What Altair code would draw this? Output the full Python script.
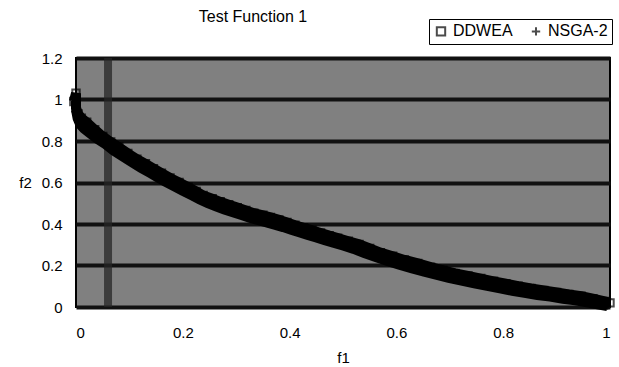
import altair as alt
import pandas as pd

# Pareto front estimates
ddwea_f1 = [-0.004, 0.0, 0.0, 0.004, 0.01, 0.02, 0.035, 0.05, 0.065, 0.08, 0.097, 0.114, 0.13, 0.145,
            0.16, 0.176, 0.193, 0.21, 0.225, 0.238, 0.255, 0.27, 0.286, 0.302, 0.318, 0.333, 0.35, 0.364,
            0.38, 0.395, 0.41, 0.426, 0.442, 0.458, 0.474, 0.49, 0.51, 0.53, 0.55, 0.57, 0.593, 0.615,
            0.64, 0.664, 0.687, 0.71, 0.734, 0.758, 0.782, 0.805, 0.828, 0.852, 0.876, 0.9, 0.923,
            0.946, 0.968, 0.99, 1.0]
ddwea_f2 = [0.99, 1.03, 0.96, 0.93, 0.91, 0.89, 0.855, 0.822, 0.795, 0.77, 0.74, 0.712, 0.69, 0.667,
            0.645, 0.622, 0.6, 0.577, 0.557, 0.537, 0.522, 0.507, 0.493, 0.479, 0.465, 0.452, 0.442, 0.432,
            0.42, 0.407, 0.394, 0.382, 0.37, 0.357, 0.344, 0.332, 0.317, 0.302, 0.282, 0.262, 0.245, 0.227,
            0.21, 0.192, 0.177, 0.162, 0.15, 0.137, 0.124, 0.112, 0.1, 0.089, 0.08, 0.07, 0.06,
            0.052, 0.04, 0.027, 0.02]

nsga_f1 = [0.0, 0.003, 0.008, 0.015, 0.025, 0.04, 0.055, 0.07, 0.088, 0.105, 0.122, 0.138, 0.153,
           0.168, 0.185, 0.2, 0.217, 0.232, 0.247, 0.262, 0.278, 0.294, 0.31, 0.325, 0.342, 0.357,
           0.372, 0.388, 0.403, 0.418, 0.434, 0.45, 0.466, 0.482, 0.5, 0.52, 0.54, 0.56, 0.582, 0.604,
           0.628, 0.652, 0.676, 0.698, 0.722, 0.746, 0.77, 0.794, 0.817, 0.84, 0.864, 0.888, 0.912,
           0.935, 0.957, 0.979, 0.995]
nsga_f2 = [0.95, 0.91, 0.88, 0.86, 0.84, 0.81, 0.785, 0.755, 0.725, 0.697, 0.67, 0.647, 0.625,
           0.603, 0.58, 0.56, 0.538, 0.518, 0.5, 0.485, 0.47, 0.456, 0.443, 0.43, 0.418, 0.408,
           0.397, 0.385, 0.372, 0.36, 0.347, 0.335, 0.322, 0.31, 0.296, 0.28, 0.26, 0.242, 0.223, 0.205,
           0.187, 0.17, 0.155, 0.14, 0.127, 0.114, 0.102, 0.09, 0.078, 0.068, 0.058, 0.05, 0.04,
           0.032, 0.022, 0.012, 0.005]

series_names = ["DDWEA", "NSGA-2"]
x_ticks = [0, 0.2, 0.4, 0.6, 0.8, 1]
y_ticks = [0, 0.2, 0.4, 0.6, 0.8, 1, 1.2]
stripe_f1 = [0.06]
title_text = ["Test Function 1"]

df = pd.concat([
    pd.DataFrame({"f1": ddwea_f1, "f2": ddwea_f2, "series": series_names[0], "order": range(len(ddwea_f1))}),
    pd.DataFrame({"f1": nsga_f1, "f2": nsga_f2, "series": series_names[1], "order": range(len(nsga_f1))}),
])

font = "Liberation Sans"

xscale = alt.Scale(domain=[0, 1], nice=False)
yscale = alt.Scale(domain=[0, 1.2], nice=False)

xaxis = alt.Axis(values=x_ticks, format="~g", grid=False, ticks=False, domain=False,
                 labelFontSize=15, labelPadding=18, labelColor="black", labelFont=font,
                 title="f1", titleFontSize=15, titleFontWeight="normal", titleFont=font,
                 titleColor="black", titleY=50, titleBaseline="middle")
yaxis = alt.Axis(values=y_ticks, format="~g", grid=True, gridColor="#111111", gridWidth=4,
                 ticks=False, domain=False, labelFontSize=15, labelPadding=14, labelColor="black",
                 labelFont=font, title="f2", titleAngle=0, titleFontSize=15, titleFontWeight="normal",
                 titleFont=font, titleColor="black", titleX=-51, titleY=124,
                 titleAlign="center", titleBaseline="middle")

stripe = alt.Chart(pd.DataFrame({"x": stripe_f1})).mark_rule(
    color="#262626", strokeWidth=8, opacity=0.75
).encode(x=alt.X("x:Q", scale=xscale, axis=xaxis))

lines = alt.Chart(df).mark_line(color="black", strokeWidth=10, clip=False).encode(
    x=alt.X("f1:Q", scale=xscale, axis=xaxis),
    y=alt.Y("f2:Q", scale=yscale, axis=yaxis),
    detail="series:N",
    order="order:Q",
)

points = alt.Chart(df).mark_point(filled=False, color="black", strokeWidth=2, size=55, clip=False).encode(
    x=alt.X("f1:Q", scale=xscale, axis=xaxis),
    y=alt.Y("f2:Q", scale=yscale, axis=yaxis),
    shape=alt.Shape("series:N",
                    scale=alt.Scale(domain=series_names, range=["square", "M-1,0L1,0M0,-1L0,1"]),
                    legend=alt.Legend(title=None, orient="none", legendX=353, legendY=-39,
                                      direction="horizontal", strokeColor="black", fillColor="white",
                                      padding=4, labelFontSize=16, labelFont=font, labelColor="black",
                                      symbolSize=70, symbolStrokeWidth=2, symbolStrokeColor="black",
                                      columnPadding=14, labelOffset=4)),
)

title = alt.Chart(pd.DataFrame({"t": title_text})).mark_text(
    fontSize=16, font=font, color="black", align="center", baseline="alphabetic"
).encode(text="t:N", x=alt.value(177), y=alt.value(-36))

chart = alt.layer(stripe, lines, points, title).properties(
    width=534, height=249,
    padding={"left": 76, "top": 58, "right": 9, "bottom": 60},
    autosize=alt.AutoSizeParams(type="none"),
).configure_view(fill="#808080", stroke="black", strokeWidth=2)

chart.save("out.html", embed_options={"renderer": "svg", "actions": False})
